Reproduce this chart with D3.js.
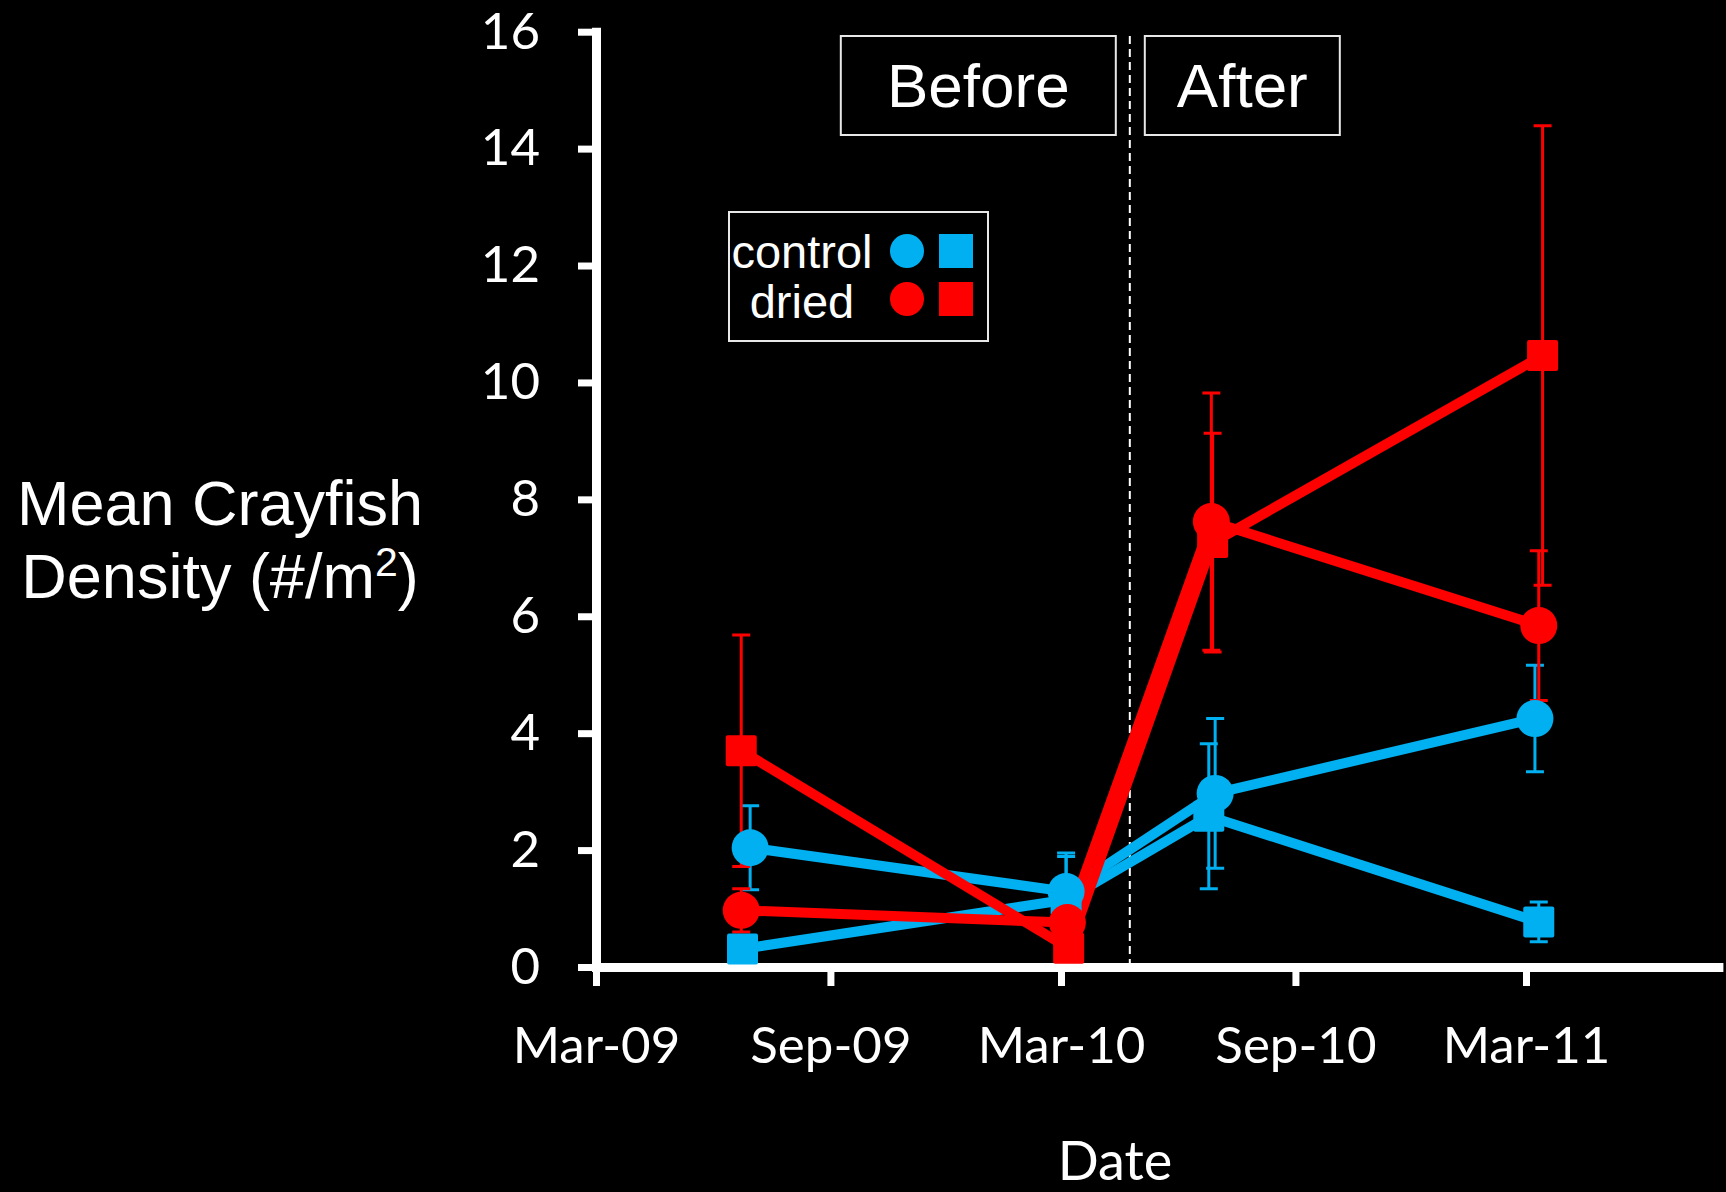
<!DOCTYPE html>
<html>
<head>
<meta charset="utf-8">
<title>Mean Crayfish Density</title>
<script src="https://cdn.jsdelivr.net/npm/d3@7"></script>
<style>
  html, body { margin: 0; padding: 0; background: #000; }
  svg { display: block; }
</style>
</head>
<body>
<svg id="chartSvg" width="1726" height="1192"></svg>
<script>
/* data */
const xTickDates = ["2009-03-01", "2009-09-01", "2010-03-01", "2010-09-01", "2011-03-01"];
const yTicks = [0, 2, 4, 6, 8, 10, 12, 14, 16];
const treatmentDate = "2010-04-24";

const controlCircleDates = ["2009-06-30", "2010-03-05", "2010-06-30", "2011-03-08"];
const controlCircleMean = [2.04, 1.29, 2.97, 4.25];
const controlCircleErr = [0.72, 0.66, 1.28, 0.91];

const controlSquareDates = ["2009-06-24", "2010-03-05", "2010-06-25", "2011-03-11"];
const controlSquareMean = [0.31, 1.15, 2.58, 0.77];
const controlSquareErr = [0.12, 0.74, 1.24, 0.34];

const driedCircleDates = ["2009-06-23", "2010-03-06", "2010-06-27", "2011-03-11"];
const driedCircleMean = [0.97, 0.76, 7.62, 5.84];
const driedCircleErr = [0.37, 0.12, 2.2, 1.28];

const driedSquareDates = ["2009-06-23", "2010-03-07", "2010-06-28", "2011-03-14"];
const driedSquareMean = [3.7, 0.32, 7.26, 10.46];
const driedSquareErr = [1.98, 0.08, 1.87, 3.93];

const blue = "#00b0f0";
const red = "#ff0000";

const parseDate = d3.utcParse("%Y-%m-%d");

function buildSeries(name, shape, color, dates, mean, err) {
  return {
    name, shape, color,
    points: dates.map((d, i) => ({ date: parseDate(d), mean: mean[i], err: err[i] }))
  };
}

// drawing order: blue first, red on top
const series = [
  buildSeries("control", "circle", blue, controlCircleDates, controlCircleMean, controlCircleErr),
  buildSeries("control", "square", blue, controlSquareDates, controlSquareMean, controlSquareErr),
  buildSeries("dried", "circle", red, driedCircleDates, driedCircleMean, driedCircleErr),
  buildSeries("dried", "square", red, driedSquareDates, driedSquareMean, driedSquareErr)
];

const svg = d3.select("#chartSvg");

const x = d3.scaleUtc()
  .domain([parseDate("2009-03-01"), parseDate("2011-07-30")])
  .range([596, 1718.4]);

const y = d3.scaleLinear()
  .domain([0, 16])
  .range([967, 31.7]);

const tickFont = "Lato, 'Open Sans', sans-serif";
const arialFont = "'Liberation Sans', Arial, sans-serif";

/* axes */
const yAxis = svg.append("g")
  .attr("transform", `translate(${x.range()[0]},0)`)
  .call(d3.axisLeft(y).tickValues(yTicks).tickSize(18).tickSizeOuter(0).tickPadding(38));

const xAxis = svg.append("g")
  .attr("transform", `translate(0,${y(0)})`)
  .call(d3.axisBottom(x)
    .tickValues(xTickDates.map(parseDate))
    .tickFormat(d3.utcFormat("%b-%y"))
    .tickSize(19)
    .tickSizeOuter(0));

[yAxis, xAxis].forEach(g => {
  g.select(".domain").attr("stroke", "#fff").attr("stroke-width", 9).attr("stroke-linecap", "square");
  g.selectAll(".tick line").attr("stroke", "#fff").attr("stroke-width", 7);
  g.selectAll(".tick text")
    .attr("fill", "#fff")
    .style("font-family", tickFont)
    .style("font-size", "51px");
});

xAxis.selectAll(".tick text").attr("y", 96).attr("dy", null);

/* axis titles */
const yTitle = svg.append("text")
  .attr("text-anchor", "middle")
  .attr("fill", "#fff")
  .style("font-family", arialFont)
  .style("font-size", "63px");
yTitle.append("tspan").attr("x", 220).attr("y", 525).text("Mean Crayfish");
yTitle.append("tspan").attr("x", 220).attr("y", 598).text("Density (#/m");
yTitle.append("tspan").attr("dy", -22).style("font-size", "41px").text("2");
yTitle.append("tspan").attr("dy", 22).text(")");

svg.append("text")
  .attr("x", 1115)
  .attr("y", 1180)
  .attr("text-anchor", "middle")
  .attr("fill", "#fff")
  .style("font-family", tickFont)
  .style("font-size", "54px")
  .text("Date");

/* before / after marker */
const dashX = x(parseDate(treatmentDate));

svg.append("line")
  .attr("x1", dashX).attr("x2", dashX)
  .attr("y1", 36).attr("y2", y(0) - 4)
  .attr("stroke", "#fff")
  .attr("stroke-width", 2)
  .attr("stroke-dasharray", "8,5");

const periodBoxes = [
  { label: "Before", x0: dashX - 289, x1: dashX - 14 },
  { label: "After", x0: dashX + 15, x1: dashX + 210 }
];

periodBoxes.forEach(b => {
  svg.append("rect")
    .attr("x", b.x0).attr("y", 36)
    .attr("width", b.x1 - b.x0).attr("height", 99)
    .attr("fill", "none")
    .attr("stroke", "#e8e8e8")
    .attr("stroke-width", 2);
  svg.append("text")
    .attr("x", (b.x0 + b.x1) / 2)
    .attr("y", 107)
    .attr("text-anchor", "middle")
    .attr("fill", "#fff")
    .style("font-family", arialFont)
    .style("font-size", "62px")
    .text(b.label);
});

/* legend */
const legend = svg.append("g");
legend.append("rect")
  .attr("x", 729).attr("y", 212)
  .attr("width", 259).attr("height", 129)
  .attr("fill", "none")
  .attr("stroke", "#e8e8e8")
  .attr("stroke-width", 2);

const legendRows = [
  { label: "control", color: blue, cy: 251, baseline: 268 },
  { label: "dried", color: red, cy: 299, baseline: 318 }
];

legendRows.forEach(r => {
  legend.append("text")
    .attr("x", 802).attr("y", r.baseline)
    .attr("text-anchor", "middle")
    .attr("fill", "#fff")
    .style("font-family", arialFont)
    .style("font-size", "47px")
    .text(r.label);
  legend.append("circle")
    .attr("cx", 907).attr("cy", r.cy).attr("r", 17)
    .attr("fill", r.color);
  legend.append("rect")
    .attr("x", 939).attr("y", r.cy - 17)
    .attr("width", 34).attr("height", 34)
    .attr("fill", r.color);
});

/* error bars */
const capHalf = 9;
const errGroups = svg.selectAll("g.err")
  .data(series)
  .enter()
  .append("g")
  .attr("class", "err")
  .attr("stroke", d => d.color)
  .attr("stroke-width", 3);

errGroups.selectAll("path")
  .data(d => d.points)
  .enter()
  .append("path")
  .attr("fill", "none")
  .attr("d", p => {
    const px = x(p.date);
    const top = y(p.mean + p.err);
    const bot = y(Math.max(0, p.mean - p.err));
    return `M${px},${top}V${bot}M${px - capHalf},${top}H${px + capHalf}M${px - capHalf},${bot}H${px + capHalf}`;
  });

/* lines */
const line = d3.line()
  .x(p => x(p.date))
  .y(p => y(p.mean));

svg.selectAll("path.series")
  .data(series)
  .enter()
  .append("path")
  .attr("class", "series")
  .attr("fill", "none")
  .attr("stroke", d => d.color)
  .attr("stroke-width", 10)
  .attr("stroke-linejoin", "round")
  .attr("d", d => line(d.points));

/* markers */
const markerGroups = svg.selectAll("g.markers")
  .data(series)
  .enter()
  .append("g")
  .attr("class", "markers")
  .attr("fill", d => d.color);

markerGroups.each(function (s) {
  const g = d3.select(this);
  if (s.shape === "circle") {
    g.selectAll("circle")
      .data(s.points)
      .enter()
      .append("circle")
      .attr("cx", p => x(p.date))
      .attr("cy", p => y(p.mean))
      .attr("r", 18.5);
  } else {
    g.selectAll("rect")
      .data(s.points)
      .enter()
      .append("rect")
      .attr("x", p => x(p.date) - 15.5)
      .attr("y", p => y(p.mean) - 15.5)
      .attr("width", 31)
      .attr("height", 31)
      .attr("rx", 2);
  }
});
</script>
</body>
</html>
